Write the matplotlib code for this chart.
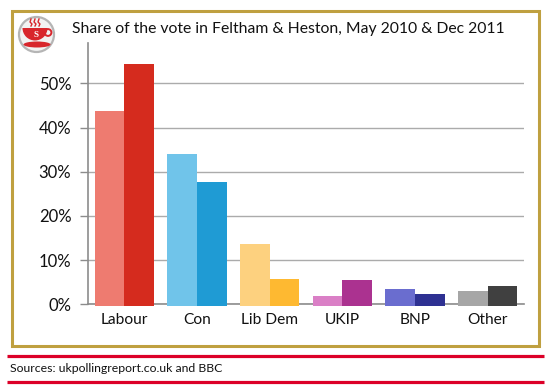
import numpy as np
import matplotlib
matplotlib.use("Agg")
import matplotlib.pyplot as plt
from matplotlib.patches import Rectangle, Circle, Ellipse, Wedge

plt.rcParams['font.family'] = ['Lato', 'DejaVu Sans']

parties = ['Labour', 'Con', 'Lib Dem', 'UKIP', 'BNP', 'Other']
may_2010 = [43.7, 34.0, 13.6, 1.9, 3.5, 3.0]
dec_2011 = [54.4, 27.6, 5.8, 5.5, 2.3, 4.1]
colors_2010 = ['#ee7b70', '#70c4ea', '#fdd17f', '#da7fc6', '#6a6dcf', '#a6a6a6']
colors_2011 = ['#d52b1e', '#1f9bd4', '#feb931', '#ab3290', '#2e3192', '#404040']
yticks = [0, 10, 20, 30, 40, 50]
title = 'Share of the vote in Feltham & Heston, May 2010 & Dec 2011'
source = 'Sources: ukpollingreport.co.uk and BBC'

W, H = 552, 390
fig = plt.figure(figsize=(W / 100, H / 100), dpi=100)

# overlay in pixel coords for frame, rules and logo
bg = fig.add_axes([0, 0, 1, 1], zorder=0)
bg.set_xlim(0, W)
bg.set_ylim(H, 0)
bg.axis('off')
bg.add_patch(Rectangle((11.5, 10.5), 527, 335, fill=False, ec='#bfa040', lw=2.2))
bg.plot([7, 544], [355.5, 355.5], color='#dc0028', lw=2.3, solid_capstyle='butt')
bg.plot([7, 544], [381.5, 381.5], color='#dc0028', lw=2.3, solid_capstyle='butt')
bg.text(72, 29.5, title, fontsize=11.3, color='#111111', va='center', ha='left')
bg.text(10, 369, source, fontsize=8.8, color='#111111', va='center', ha='left')

# logo
bg.add_patch(Circle((36.5, 34.5), 17.5, fc='#f2f2f2', ec='#b5b5b5', lw=1.6))
bg.add_patch(Ellipse((37, 44.5), 27, 6, fc='#d8262c', ec='none'))
bg.add_patch(Wedge((35, 28), 12.5, 0, 180, fc='#d8262c', ec='none'))
bg.add_patch(Circle((48, 32.5), 3.4, fill=False, ec='#d8262c', lw=1.4))
bg.text(36, 35, 'S', fontsize=6.5, color='white', weight='bold', family='Liberation Serif',
        ha='center', va='center')
for sx in [31, 35, 39]:
    bg.plot([sx, sx + 1, sx - 1, sx], [26, 24, 22, 19], color='#d8262c', lw=1)

# axes: x from 88 to 524, 0% at y=304.3, 50% at y=83.3
px_per_unit = (304.3 - 83.3) / 50
top_y = 43
ax = fig.add_axes([88 / W, 1 - 304.3 / H, (524 - 88) / W, (304.3 - top_y) / H], zorder=1)
ax.patch.set_alpha(0)
ax.set_xlim(0, 6)
ax.set_ylim(0, (304.3 - top_y) / px_per_unit)

x = np.arange(len(parties)) + 0.5
w = 0.41
sink = 0.3
ax.bar(x - w / 2, np.array(may_2010) + sink, w, bottom=-sink, color=colors_2010, clip_on=False, zorder=3)
ax.bar(x + w / 2, np.array(dec_2011) + sink, w, bottom=-sink, color=colors_2011, clip_on=False, zorder=3)

ax.set_yticks(yticks)
ax.set_yticklabels([f'{t}%' for t in yticks], fontsize=12, color='#111111')
ax.set_xticks(x)
ax.set_xticklabels(parties, fontsize=11.2, color='#111111')
ax.tick_params(axis='x', length=0, pad=6)
ax.tick_params(axis='y', length=6, width=1, color='#8c8c8c', direction='out', pad=6)
ax.grid(axis='y', color='#ababab', lw=1, zorder=1)
ax.set_axisbelow(True)
for s in ['top', 'right']:
    ax.spines[s].set_visible(False)
for s in ['left', 'bottom']:
    ax.spines[s].set_color('#8c8c8c')
    ax.spines[s].set_linewidth(1.2)

fig.savefig('out.png', dpi=100)
